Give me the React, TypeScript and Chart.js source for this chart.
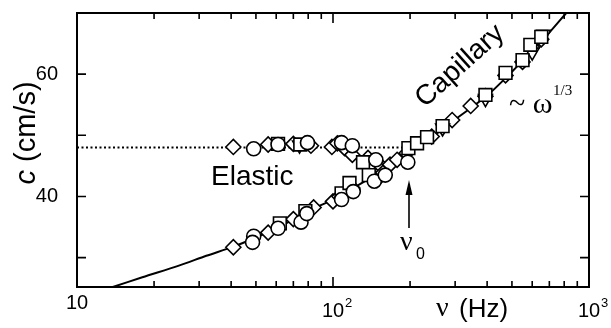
import { useEffect, useRef } from 'react';
import { Chart, registerables } from 'chart.js';

Chart.register(...registerables);

// ---- data (frequency in Hz, phase speed in cm/s) ----
const curveFreq = [13.8, 18, 25, 32, 40.8, 50, 60, 70, 84, 100, 120, 145, 172, 200, 245, 300, 400, 500, 600, 700, 815];
const curveSpeed = [25.2, 26.8, 28.7, 30.3, 31.8, 33.3, 34.8, 36.2, 38.0, 39.5, 41.4, 43.4, 45.5, 47.3, 49.8, 52.6, 56.5, 60.4, 63.8, 66.8, 70.0];

const dottedFreq = [10, 193];
const dottedSpeed = [48, 48];

const diamondFreq = [40.8, 55.8, 70, 82, 99, 104, 111, 119, 137, 152,
  40.8, 55.8, 70, 84, 100, 106, 119, 148, 157, 167, 178, 194, 243, 292, 345, 394, 472, 550, 600, 651];
const diamondSpeed = [48.1, 48.5, 48.6, 48.3, 48.1, 48.7, 47.9, 46.8, 46.3, 45.2,
  31.7, 34.1, 36.3, 38.2, 39.2, 40.0, 41.4, 42.7, 43.9, 45.2, 46.0, 47.1, 49.8, 52.5, 54.8, 56.4, 59.8, 62.0, 64.4, 65.7];

const circleFreq = [49, 61, 79.5, 108, 119, 147, 49, 48.5, 61, 75, 79, 108, 120, 145, 160, 196];
const circleSpeed = [47.8, 48.5, 48.8, 48.8, 48.3, 46.0, 33.5, 32.5, 34.8, 35.8, 37.2, 39.5, 40.8, 42.5, 43.5, 45.6];

const squareFreq = [61, 74.5, 131, 62, 78, 108, 116, 138, 197, 213, 233, 268, 394, 472, 550, 590, 651];
const squareSpeed = [48.6, 48.5, 45.6, 35.6, 37.6, 40.5, 42.2, 43.5, 47.9, 48.7, 49.7, 51.5, 56.6, 60.2, 62.3, 64.8, 66.1];

const triangleFreq = [74, 268, 394, 600, 665];
const triangleSpeed = [48.4, 51.2, 56.0, 63.6, 66.5];

// ---- axes / ticks ----
const xMin = 10;
const xMax = 1000;
const yMin = 25.2;
const yMax = 70;
const xLabelValues = [10, 100, 1000];
const xLabelBases = ['10', '10', '10'];
const xLabelExps = ['', '2', '3'];
const xMajorTicks = [100];
const xMinorTicks = [20, 30, 40, 50, 60, 70, 80, 90, 200, 300, 400, 500, 600, 700, 800, 900];
const yTickValues = [30, 40, 50, 60];
const yLabelValues = [40, 60];

const SANS = "'Liberation Sans', Arial, Helvetica, sans-serif";
const SERIF = "'Liberation Serif', 'Times New Roman', serif";

const pts = (xs: number[], ys: number[]) => xs.map((x, i) => ({ x, y: ys[i] }));

const decor = {
  id: 'decor',
  afterDatasetsDraw(chart: any) {
    const { ctx, chartArea: a, scales } = chart;
    const xs = scales.x;
    const ys = scales.y;
    ctx.save();
    ctx.strokeStyle = '#000';
    ctx.fillStyle = '#000';
    ctx.lineWidth = 2;
    ctx.strokeRect(a.left, a.top, a.right - a.left, a.bottom - a.top);

    // inward tick marks on all four sides
    ctx.lineWidth = 1.6;
    const xTick = (v: number, len: number) => {
      const px = xs.getPixelForValue(v);
      ctx.beginPath();
      ctx.moveTo(px, a.bottom);
      ctx.lineTo(px, a.bottom - len);
      ctx.moveTo(px, a.top);
      ctx.lineTo(px, a.top + len);
      ctx.stroke();
    };
    xMajorTicks.forEach((v) => xTick(v, 10));
    xMinorTicks.forEach((v) => xTick(v, 6));
    yTickValues.forEach((v) => {
      const py = ys.getPixelForValue(v);
      ctx.beginPath();
      ctx.moveTo(a.left, py);
      ctx.lineTo(a.left + 9, py);
      ctx.moveTo(a.right, py);
      ctx.lineTo(a.right - 9, py);
      ctx.stroke();
    });

    // x tick labels with superscript exponents
    ctx.textBaseline = 'alphabetic';
    xLabelValues.forEach((v, i) => {
      const px = xs.getPixelForValue(v);
      const exp = xLabelExps[i];
      ctx.font = `20px ${SANS}`;
      ctx.textAlign = 'center';
      const base = a.bottom + (exp ? 30 : 22);
      ctx.fillText(xLabelBases[i], px, base);
      if (exp) {
        const w = ctx.measureText(xLabelBases[i]).width;
        ctx.font = `13px ${SANS}`;
        ctx.textAlign = 'left';
        ctx.fillText(exp, px + w / 2 + 1, base - 10);
      }
    });

    // x axis title: ν (Hz)
    ctx.textAlign = 'left';
    ctx.font = `28px ${SERIF}`;
    ctx.fillText('ν', 436, 316);
    ctx.font = `26px ${SANS}`;
    ctx.fillText('(Hz)', 459, 317);

    // y axis title: c (cm/s), rotated
    ctx.save();
    ctx.translate(35, 133);
    ctx.rotate(-Math.PI / 2);
    ctx.font = `italic 29px ${SANS}`;
    const wc = ctx.measureText('c').width;
    ctx.font = `29px ${SANS}`;
    const wr = ctx.measureText(' (cm/s)').width;
    const start = -(wc + wr) / 2;
    ctx.textAlign = 'left';
    ctx.font = `italic 29px ${SANS}`;
    ctx.fillText('c', start, 0);
    ctx.font = `29px ${SANS}`;
    ctx.fillText(' (cm/s)', start + wc, 0);
    ctx.restore();

    // annotations
    ctx.font = `28px ${SANS}`;
    ctx.textAlign = 'left';
    ctx.fillText('Elastic', 211, 185);

    ctx.save();
    ctx.translate(460, 66);
    ctx.rotate((-42 * Math.PI) / 180);
    ctx.textAlign = 'center';
    ctx.textBaseline = 'middle';
    ctx.font = `28px ${SANS}`;
    ctx.fillText('Capillary', 0, 0);
    ctx.restore();

    ctx.textAlign = 'left';
    ctx.textBaseline = 'alphabetic';
    ctx.font = `30px ${SERIF}`;
    ctx.fillText('~ ω', 509, 113);
    ctx.font = `15px ${SERIF}`;
    ctx.fillText('1/3', 553, 95);

    // arrow marking ν0
    ctx.lineWidth = 1.6;
    ctx.beginPath();
    ctx.moveTo(409, 228);
    ctx.lineTo(409, 190);
    ctx.stroke();
    ctx.beginPath();
    ctx.moveTo(409, 180);
    ctx.lineTo(405.5, 195);
    ctx.lineTo(412.5, 195);
    ctx.closePath();
    ctx.fill();
    ctx.font = `28px ${SERIF}`;
    ctx.fillText('ν', 400, 250);
    ctx.font = `16px ${SANS}`;
    ctx.fillText('0', 416, 259);

    ctx.restore();
  },
};

const marker = (label: string, data: any[], style: string, radius: number, extra: any = {}) => ({
  label,
  data,
  showLine: false,
  pointStyle: style,
  pointRadius: radius,
  pointBackgroundColor: '#ffffff',
  pointBorderColor: '#000000',
  pointBorderWidth: 1.6,
  order: 1,
  ...extra,
});

export default function App() {
  const ref = useRef<HTMLCanvasElement | null>(null);
  useEffect(() => {
    if (!ref.current) return;
    const chart = new Chart(ref.current, {
      type: 'scatter',
      data: {
        datasets: [
          {
            label: 'dispersion',
            data: pts(curveFreq, curveSpeed),
            showLine: true,
            pointRadius: 0,
            borderColor: '#000',
            borderWidth: 2,
            tension: 0.3,
            order: 3,
          } as any,
          {
            label: 'elastic level',
            data: pts(dottedFreq, dottedSpeed),
            showLine: true,
            pointRadius: 0,
            borderColor: '#000',
            borderWidth: 2,
            borderDash: [2, 2.5],
            order: 3,
          } as any,
          marker('circles', pts(circleFreq, circleSpeed), 'circle', 7),
          marker('squares', pts(squareFreq, squareSpeed), 'rect', 9),
          marker('triangles', pts(triangleFreq, triangleSpeed), 'triangle', 8, { pointRotation: 180 }),
          marker('diamonds', pts(diamondFreq, diamondSpeed), 'rectRot', 7.5),
        ],
      },
      options: {
        responsive: false,
        animation: false,
        events: [],
        layout: { padding: { left: 0, right: 22, top: 13, bottom: 0 } },
        plugins: { legend: { display: false }, tooltip: { enabled: false } },
        scales: {
          x: {
            type: 'logarithmic',
            min: xMin,
            max: xMax,
            grid: { display: false },
            border: { display: false },
            ticks: { display: false },
            afterFit: (s: any) => {
              s.height = 41;
              s.paddingLeft = 0;
              s.paddingRight = 0;
            },
          },
          y: {
            type: 'linear',
            min: yMin,
            max: yMax,
            grid: { display: false },
            border: { display: false },
            ticks: {
              stepSize: 10,
              padding: 11,
              color: '#000',
              font: { family: SANS, size: 20 },
              callback: (v: any) => (yLabelValues.includes(Number(v)) ? String(v) : ''),
            },
            afterFit: (s: any) => {
              s.width = 77;
              s.paddingTop = 0;
              s.paddingBottom = 0;
            },
          },
        },
      } as any,
      plugins: [decor],
    });
    return () => chart.destroy();
  }, []);

  return (
    <div style={{ position: 'fixed', left: 0, top: 0, width: 611, height: 328, background: '#fff' }}>
      <canvas ref={ref} width={611} height={328} style={{ display: 'block', width: 611, height: 328 }} />
    </div>
  );
}
